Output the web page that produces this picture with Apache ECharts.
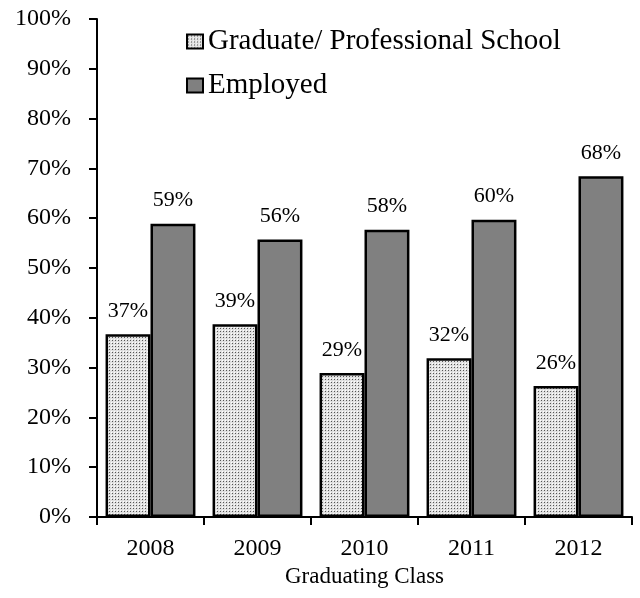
<!DOCTYPE html>
<html>
<head>
<meta charset="utf-8">
<script src="https://cdn.jsdelivr.net/npm/echarts@6/dist/echarts.min.js"></script>
<style>html,body{margin:0;padding:0;background:#fff}#c{width:640px;height:598px}</style>
</head>
<body>
<div id="c"></div>
<script>
const categories = ['2008', '2009', '2010', '2011', '2012'];
const graduate = [36.7, 38.7, 28.9, 31.9, 26.3];
const employed = [58.9, 55.7, 57.7, 59.7, 68.4];
const yTicks = [0, 10, 20, 30, 40, 50, 60, 70, 80, 90, 100];

const pc = document.createElement('canvas');
pc.width = 3; pc.height = 3;
const g = pc.getContext('2d');
g.fillStyle = '#e0e0e0'; g.fillRect(0, 0, 3, 3);
g.fillStyle = '#555555'; g.fillRect(1, 1, 1, 1);
g.fillStyle = '#ffffff'; g.fillRect(0, 0, 1, 1);

const font = 'Liberation Serif';
const chart = echarts.init(document.getElementById('c'), null, {renderer: 'canvas'});
chart.setOption({
  animation: false,
  textStyle: {fontFamily: font},
  grid: {left: 97, right: 8, top: 19, bottom: 81, containLabel: false},
  legend: {
    orient: 'vertical', left: 181, top: 22, itemGap: 15,
    itemWidth: 16, itemHeight: 14,
    textStyle: {fontFamily: font, fontSize: 29, color: '#000'},
    data: [{name: 'Graduate/ Professional School', icon: 'rect'}, {name: 'Employed', icon: 'rect'}]
  },
  xAxis: {
    type: 'category', data: categories,
    name: 'Graduating Class', nameLocation: 'middle', nameGap: 46,
    nameTextStyle: {fontFamily: font, fontSize: 23, color: '#000'},
    axisLine: {lineStyle: {color: '#000', width: 2}},
    axisTick: {show: true, inside: false, length: 8, lineStyle: {color: '#000', width: 2}},
    axisLabel: {fontFamily: font, fontSize: 24, color: '#000', margin: 20}
  },
  yAxis: {
    type: 'value', min: 0, max: 100, interval: 10,
    axisLine: {show: true, lineStyle: {color: '#000', width: 2}},
    axisTick: {show: true, inside: false, length: 8, lineStyle: {color: '#000', width: 2}},
    splitLine: {show: false},
    axisLabel: {fontFamily: font, fontSize: 24, color: '#000', margin: 26,
      formatter: v => yTicks.includes(v) ? v + '%' : ''}
  },
  series: [
    {
      name: 'Graduate/ Professional School', type: 'bar', data: graduate,
      barGap: '0%', barCategoryGap: '16%',
      itemStyle: {color: {image: pc, repeat: 'repeat'}, borderColor: '#000', borderWidth: 2.5},
      label: {show: true, position: 'top', distance: 12, formatter: p => Math.round(p.value) + '%',
        fontFamily: font, fontSize: 22, color: '#000'}
    },
    {
      name: 'Employed', type: 'bar', data: employed,
      barGap: '0%', barCategoryGap: '16%',
      itemStyle: {color: '#808080', borderColor: '#000', borderWidth: 2.5},
      label: {show: true, position: 'top', distance: 12, formatter: p => Math.round(p.value) + '%',
        fontFamily: font, fontSize: 22, color: '#000'}
    }
  ]
});
</script>
</body>
</html>
